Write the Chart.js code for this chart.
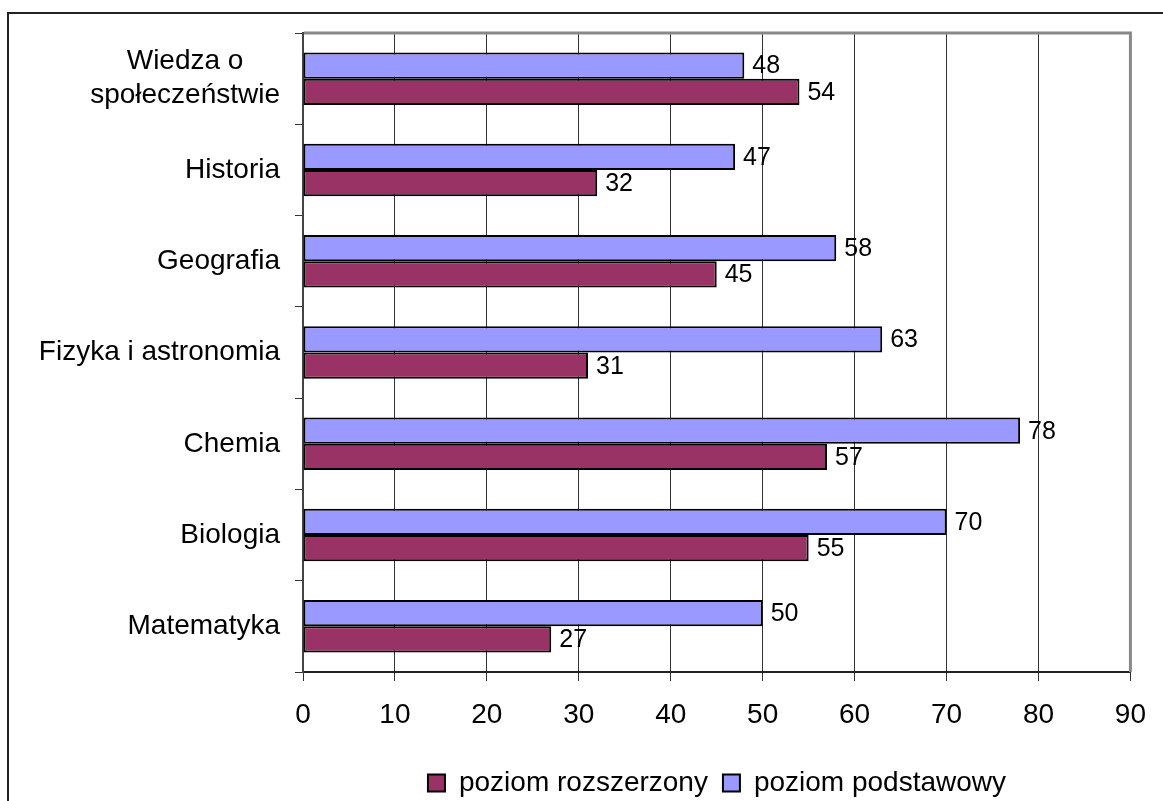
<!DOCTYPE html>
<html>
<head>
<meta charset="utf-8">
<script src="https://cdn.jsdelivr.net/npm/chart.js@4"></script>
<style>
  html, body { margin: 0; background: #fff; }
</style>
</head>
<body>
<canvas id="myChart" width="1163" height="801"></canvas>
<script>
let labels = [['Wiedza o', 'społeczeństwie'], 'Historia', 'Geografia', 'Fizyka i astronomia', 'Chemia', 'Biologia', 'Matematyka'];
let podstawowy = [48, 47, 58, 63, 78, 70, 50];
let rozszerzony = [54, 32, 45, 31, 57, 55, 27];
let xTicks = [0, 10, 20, 30, 40, 50, 60, 70, 80, 90];
let seriesNames = ['poziom podstawowy', 'poziom rozszerzony'];
let colorHex = ['#9999FF', '#993366'];

const FONT = '"Liberation Sans", Arial, sans-serif';

// white page, outer frame, plot border, category and value labels
const decor = {
    id: 'decor',
    beforeDraw(chart) {
        const c = chart.ctx;
        c.save();
        c.fillStyle = '#fff';
        c.fillRect(0, 0, chart.width, chart.height);
        c.strokeStyle = '#222';
        c.lineWidth = 2;
        c.beginPath();
        c.moveTo(8, chart.height);
        c.lineTo(8, 13);
        c.lineTo(chart.width, 13);
        c.stroke();
        c.restore();
    },
    afterDatasetsDraw(chart) {
        const c = chart.ctx;
        c.save();
        c.font = '25px ' + FONT;
        c.fillStyle = '#000';
        c.textAlign = 'left';
        c.textBaseline = 'middle';
        chart.data.datasets.forEach((ds, d) => {
            chart.getDatasetMeta(d).data.forEach((bar, i) => {
                c.fillText(ds.data[i], bar.x + 8, bar.y + 1);
            });
        });
        c.restore();
    },
    afterDraw(chart) {
        const c = chart.ctx;
        const a = chart.chartArea;
        c.save();
        c.strokeStyle = '#888';
        c.lineWidth = 3;
        c.beginPath();
        c.moveTo(a.left + 1, a.top);
        c.lineTo(a.right, a.top);
        c.lineTo(a.right, a.bottom);
        c.stroke();

        const ys = chart.scales.y;
        c.font = '28px ' + FONT;
        c.fillStyle = '#000';
        c.textBaseline = 'middle';
        const xr = a.left - 23;
        labels.forEach((lab, i) => {
            const y = ys.getPixelForValue(i);
            if (Array.isArray(lab)) {
                const w = Math.max(...lab.map(s => c.measureText(s).width));
                c.textAlign = 'center';
                lab.forEach((s, j) => c.fillText(s, xr - w / 2, y + (j - (lab.length - 1) / 2) * 34));
            } else {
                c.textAlign = 'right';
                c.fillText(lab, xr, y);
            }
        });
        c.restore();
    }
};

let ctx = document.getElementById('myChart').getContext('2d');

let myChart = new Chart(ctx, {
    type: 'bar',
    data: {
        labels: labels,
        datasets: [{
            label: seriesNames[0],
            data: podstawowy,
            backgroundColor: colorHex[0],
            borderColor: '#000',
            borderWidth: 2,
            borderSkipped: false
        }, {
            label: seriesNames[1],
            data: rozszerzony,
            backgroundColor: colorHex[1],
            borderColor: '#000',
            borderWidth: 2,
            borderSkipped: false
        }]
    },
    options: {
        indexAxis: 'y',
        responsive: false,
        animation: false,
        categoryPercentage: 0.575,
        barPercentage: 1.0,
        layout: {
            padding: { top: 33, right: 30, left: 301, bottom: -6 }
        },
        scales: {
            x: {
                min: xTicks[0],
                max: xTicks[xTicks.length - 1],
                afterBuildTicks: (scale) => {
                    scale.ticks = xTicks.map(v => ({ value: v }));
                },
                afterFit: (scale) => { scale.height = 82; },
                ticks: {
                    color: '#000',
                    font: { size: 28, family: FONT },
                    padding: 17,
                    maxRotation: 0
                },
                grid: {
                    color: '#333',
                    lineWidth: 1,
                    tickLength: 9
                },
                border: { color: '#222', width: 2 }
            },
            y: {
                afterFit: (scale) => { scale.width = 2; },
                ticks: { display: false },
                grid: {
                    drawOnChartArea: false,
                    color: '#333',
                    tickLength: 8
                },
                border: { color: '#444', width: 2 }
            }
        },
        plugins: {
            legend: {
                position: 'bottom',
                reverse: true,
                labels: {
                    color: '#000',
                    font: { size: 28, family: FONT },
                    boxWidth: 17,
                    boxHeight: 17,
                    padding: 15
                }
            },
            tooltip: { enabled: false }
        }
    },
    plugins: [decor]
});
</script>
</body>
</html>
